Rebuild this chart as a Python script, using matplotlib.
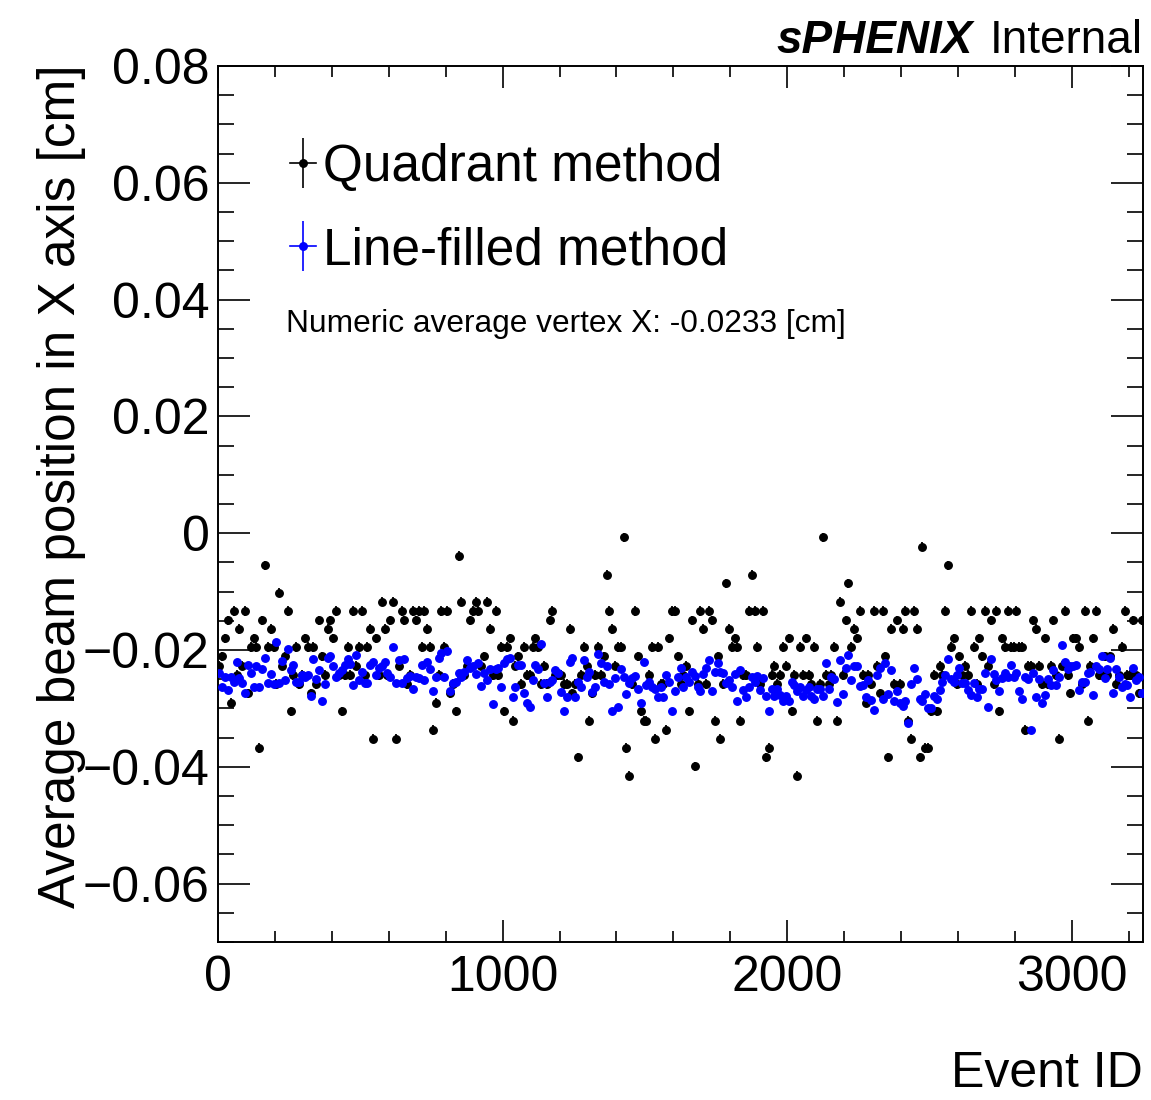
import matplotlib
matplotlib.use("Agg")
import matplotlib.pyplot as plt
from matplotlib.lines import Line2D
from matplotlib.legend_handler import HandlerTuple
from matplotlib.ticker import MultipleLocator, FuncFormatter
import numpy as np

plt.rcParams['font.family'] = ['Liberation Sans', 'DejaVu Sans']

# event bins of 10 events, points drawn at bin centres
bin_width = 10
event_id = np.arange(bin_width / 2, 3250, bin_width)

# quadrant method (black), average beam X position per bin [cm]
quad_x = [
    -0.0227, -0.0211, -0.0180, -0.0149, -0.0290, -0.0133, -0.0243, -0.0164, -0.0227, -0.0133,
    -0.0274, -0.0195, -0.0180, -0.0195, -0.0368, -0.0149, -0.0055, -0.0195, -0.0164, -0.0195,
    -0.0258, -0.0102, -0.0227, -0.0211, -0.0133, -0.0305, -0.0243, -0.0195, -0.0258, -0.0243,
    -0.0180, -0.0195, -0.0274, -0.0195, -0.0258, -0.0149, -0.0211, -0.0243, -0.0164, -0.0149,
    -0.0180, -0.0133, -0.0243, -0.0305, -0.0243, -0.0195, -0.0243, -0.0133, -0.0227, -0.0195,
    -0.0133, -0.0243, -0.0195, -0.0164, -0.0352, -0.0180, -0.0243, -0.0117, -0.0164, -0.0243,
    -0.0149, -0.0117, -0.0352, -0.0227, -0.0133, -0.0149, -0.0258, -0.0243, -0.0133, -0.0149,
    -0.0133, -0.0195, -0.0133, -0.0164, -0.0195, -0.0337, -0.0290, -0.0243, -0.0133, -0.0195,
    -0.0133, -0.0274, -0.0258, -0.0305, -0.0039, -0.0117, -0.0243, -0.0227, -0.0149, -0.0133,
    -0.0117, -0.0133, -0.0227, -0.0211, -0.0117, -0.0164, -0.0243, -0.0133, -0.0243, -0.0195,
    -0.0305, -0.0195, -0.0180, -0.0321, -0.0227, -0.0211, -0.0258, -0.0195, -0.0243, -0.0243,
    -0.0195, -0.0180, -0.0195, -0.0258, -0.0227, -0.0258, -0.0149, -0.0133, -0.0243, -0.0243,
    -0.0243, -0.0258, -0.0258, -0.0164, -0.0274, -0.0258, -0.0384, -0.0243, -0.0195, -0.0227,
    -0.0321, -0.0274, -0.0243, -0.0195, -0.0243, -0.0211, -0.0071, -0.0133, -0.0164, -0.0227,
    -0.0195, -0.0195, -0.0007, -0.0368, -0.0415, -0.0258, -0.0133, -0.0211, -0.0305, -0.0321,
    -0.0321, -0.0243, -0.0195, -0.0352, -0.0195, -0.0258, -0.0258, -0.0337, -0.0180, -0.0133,
    -0.0133, -0.0211, -0.0258, -0.0243, -0.0227, -0.0305, -0.0149, -0.0399, -0.0258, -0.0133,
    -0.0164, -0.0258, -0.0133, -0.0149, -0.0321, -0.0211, -0.0352, -0.0258, -0.0086, -0.0164,
    -0.0195, -0.0180, -0.0195, -0.0321, -0.0243, -0.0243, -0.0133, -0.0071, -0.0133, -0.0195,
    -0.0258, -0.0133, -0.0384, -0.0368, -0.0243, -0.0227, -0.0258, -0.0243, -0.0195, -0.0227,
    -0.0180, -0.0305, -0.0243, -0.0415, -0.0195, -0.0243, -0.0180, -0.0243, -0.0258, -0.0195,
    -0.0321, -0.0258, -0.0007, -0.0243, -0.0258, -0.0243, -0.0195, -0.0321, -0.0117, -0.0243,
    -0.0149, -0.0086, -0.0195, -0.0164, -0.0180, -0.0133, -0.0243, -0.0290, -0.0243, -0.0258,
    -0.0133, -0.0227, -0.0274, -0.0133, -0.0211, -0.0384, -0.0164, -0.0258, -0.0149, -0.0258,
    -0.0164, -0.0133, -0.0321, -0.0352, -0.0133, -0.0164, -0.0384, -0.0023, -0.0368, -0.0368,
    -0.0305, -0.0243, -0.0305, -0.0227, -0.0243, -0.0133, -0.0055, -0.0195, -0.0180, -0.0258,
    -0.0211, -0.0243, -0.0227, -0.0243, -0.0133, -0.0195, -0.0258, -0.0180, -0.0211, -0.0133,
    -0.0227, -0.0149, -0.0258, -0.0133, -0.0305, -0.0180, -0.0195, -0.0133, -0.0195, -0.0195,
    -0.0133, -0.0195, -0.0195, -0.0337, -0.0227, -0.0227, -0.0149, -0.0164, -0.0227, -0.0258,
    -0.0180, -0.0258, -0.0227, -0.0149, -0.0243, -0.0352, -0.0227, -0.0133, -0.0243, -0.0274,
    -0.0180, -0.0180, -0.0195, -0.0258, -0.0133, -0.0321, -0.0227, -0.0180, -0.0133, -0.0243,
    -0.0243, -0.0211, -0.0243, -0.0211, -0.0164, -0.0258, -0.0243, -0.0195, -0.0133, -0.0243,
    -0.0243, -0.0149, -0.0243, -0.0274, -0.0149,
]

# line-filled method (blue)
line_x = [
    -0.0240, -0.0263, -0.0246, -0.0268, -0.0246, -0.0254, -0.0220, -0.0248, -0.0256, -0.0273,
    -0.0226, -0.0240, -0.0263, -0.0227, -0.0263, -0.0233, -0.0213, -0.0256, -0.0241, -0.0258,
    -0.0187, -0.0256, -0.0218, -0.0252, -0.0199, -0.0234, -0.0226, -0.0254, -0.0254, -0.0243,
    -0.0246, -0.0243, -0.0278, -0.0215, -0.0250, -0.0234, -0.0287, -0.0258, -0.0213, -0.0210,
    -0.0228, -0.0247, -0.0240, -0.0234, -0.0226, -0.0215, -0.0224, -0.0260, -0.0209, -0.0251,
    -0.0237, -0.0256, -0.0256, -0.0225, -0.0221, -0.0243, -0.0231, -0.0227, -0.0221, -0.0240,
    -0.0246, -0.0194, -0.0256, -0.0217, -0.0256, -0.0216, -0.0248, -0.0244, -0.0266, -0.0246,
    -0.0248, -0.0226, -0.0252, -0.0221, -0.0232, -0.0270, -0.0246, -0.0213, -0.0205, -0.0246,
    -0.0202, -0.0271, -0.0256, -0.0254, -0.0240, -0.0246, -0.0237, -0.0217, -0.0230, -0.0228,
    -0.0241, -0.0222, -0.0262, -0.0239, -0.0252, -0.0233, -0.0292, -0.0232, -0.0231, -0.0263,
    -0.0223, -0.0216, -0.0213, -0.0280, -0.0263, -0.0226, -0.0226, -0.0274, -0.0290, -0.0297,
    -0.0252, -0.0226, -0.0233, -0.0189, -0.0256, -0.0280, -0.0254, -0.0251, -0.0234, -0.0240,
    -0.0272, -0.0304, -0.0281, -0.0221, -0.0214, -0.0280, -0.0255, -0.0263, -0.0217, -0.0246,
    -0.0237, -0.0272, -0.0263, -0.0207, -0.0223, -0.0254, -0.0227, -0.0258, -0.0305, -0.0248,
    -0.0298, -0.0233, -0.0247, -0.0275, -0.0256, -0.0248, -0.0244, -0.0266, -0.0291, -0.0220,
    -0.0260, -0.0254, -0.0263, -0.0266, -0.0280, -0.0263, -0.0280, -0.0242, -0.0254, -0.0304,
    -0.0271, -0.0246, -0.0231, -0.0264, -0.0246, -0.0254, -0.0237, -0.0244, -0.0263, -0.0271,
    -0.0241, -0.0231, -0.0217, -0.0271, -0.0237, -0.0222, -0.0237, -0.0239, -0.0256, -0.0251,
    -0.0263, -0.0241, -0.0288, -0.0235, -0.0268, -0.0280, -0.0263, -0.0246, -0.0254, -0.0244,
    -0.0268, -0.0248, -0.0279, -0.0304, -0.0266, -0.0279, -0.0266, -0.0277, -0.0287, -0.0278,
    -0.0288, -0.0254, -0.0260, -0.0270, -0.0264, -0.0279, -0.0268, -0.0263, -0.0279, -0.0283,
    -0.0266, -0.0266, -0.0278, -0.0223, -0.0266, -0.0247, -0.0250, -0.0289, -0.0217, -0.0275,
    -0.0231, -0.0209, -0.0251, -0.0228, -0.0227, -0.0261, -0.0260, -0.0281, -0.0251, -0.0285,
    -0.0303, -0.0243, -0.0231, -0.0283, -0.0223, -0.0275, -0.0234, -0.0287, -0.0270, -0.0291,
    -0.0296, -0.0287, -0.0325, -0.0259, -0.0230, -0.0250, -0.0283, -0.0288, -0.0275, -0.0300,
    -0.0300, -0.0278, -0.0284, -0.0268, -0.0254, -0.0243, -0.0215, -0.0250, -0.0254, -0.0243,
    -0.0230, -0.0257, -0.0257, -0.0268, -0.0277, -0.0257, -0.0280, -0.0266, -0.0266, -0.0239,
    -0.0297, -0.0216, -0.0241, -0.0251, -0.0270, -0.0248, -0.0239, -0.0246, -0.0226, -0.0246,
    -0.0239, -0.0270, -0.0283, -0.0246, -0.0250, -0.0337, -0.0240, -0.0280, -0.0250, -0.0291,
    -0.0277, -0.0250, -0.0260, -0.0234, -0.0260, -0.0246, -0.0191, -0.0220, -0.0233, -0.0228,
    -0.0228, -0.0226, -0.0268, -0.0255, -0.0254, -0.0239, -0.0237, -0.0277, -0.0228, -0.0233,
    -0.0210, -0.0248, -0.0233, -0.0214, -0.0273, -0.0233, -0.0247, -0.0263, -0.0258, -0.0260,
    -0.0280, -0.0231, -0.0252, -0.0246, -0.0273,
]

quad_err = 0.0008
line_err = 0.0004

series_labels = ["Quadrant method", "Line-filled method"]
average_text = "Numeric average vertex X: -0.0233 [cm]"


def ytick_fmt(v, pos):
    if abs(v) < 1e-9:
        return "0"
    return f"{v:.2f}".replace("-", "\u2212")


fig = plt.figure(figsize=(11.51, 11.0), dpi=100)
ax = fig.add_axes([0.1894, 0.1436, 0.8037, 0.7964])

ax.errorbar(event_id, quad_x, yerr=quad_err, fmt='o', color='black',
            ms=5.4, elinewidth=1.3, capsize=0, zorder=2)
ax.errorbar(event_id, line_x, yerr=line_err, fmt='o', color='#0000ff',
            ms=5.4, elinewidth=1.3, capsize=0, zorder=3)

ax.set_xlim(0, 3250)
ax.set_ylim(-0.07, 0.08)

ax.set_xticks([0, 1000, 2000, 3000])
ax.xaxis.set_minor_locator(MultipleLocator(200))
ax.yaxis.set_major_locator(MultipleLocator(0.02))
ax.yaxis.set_minor_locator(MultipleLocator(0.005))
ax.yaxis.set_major_formatter(FuncFormatter(ytick_fmt))

ax.tick_params(which='both', direction='in', top=True, right=True,
               labelsize=36, width=1.2)
ax.tick_params(axis='y', which='major', length=23, pad=6)
ax.tick_params(axis='y', which='minor', length=11.5)
ax.tick_params(axis='x', which='major', length=16, pad=9)
ax.tick_params(axis='x', which='minor', length=8)
for sp in ax.spines.values():
    sp.set_linewidth(1.4)

# legend: marker + vertical error bar + short horizontal line (ROOT style)
handles = []
for c in ['black', '#0000ff']:
    h_line = Line2D([], [], color=c, lw=1.2)
    v_line = Line2D([], [], color=c, marker='|', ms=36, mew=1.2, linestyle='none')
    dot = Line2D([], [], color=c, marker='o', ms=5.4, linestyle='none')
    handles.append((h_line, v_line, dot))
ax.legend(handles, series_labels, handler_map={tuple: HandlerTuple(ndivide=1, pad=0)},
          loc='upper left', bbox_to_anchor=(0.0778, 0.912), frameon=False,
          fontsize=37, handlelength=0.5, handletextpad=0.15, labelspacing=0.66,
          borderpad=0, borderaxespad=0)

ax.text(0.0735, 0.706, average_text, transform=ax.transAxes,
        fontsize=22.8, ha='left', va='center')

fig.text(62 / 1151, 1 - 65 / 1100, "Average beam position in X axis [cm]",
         rotation=90, ha='center', va='top', fontsize=37)
fig.text(1143 / 1151, 1 - 1087 / 1100, "Event ID", ha='right',
         va='baseline', fontsize=36)

fig.text(1143 / 1151, 1 - 53 / 1100, "Internal", ha='right', va='baseline',
         fontsize=33)
fig.text(973 / 1151, 1 - 53 / 1100, "sPHENIX", ha='right', va='baseline',
         fontsize=33, fontweight='bold', fontstyle='italic')

fig.savefig("out.png", dpi=100)
